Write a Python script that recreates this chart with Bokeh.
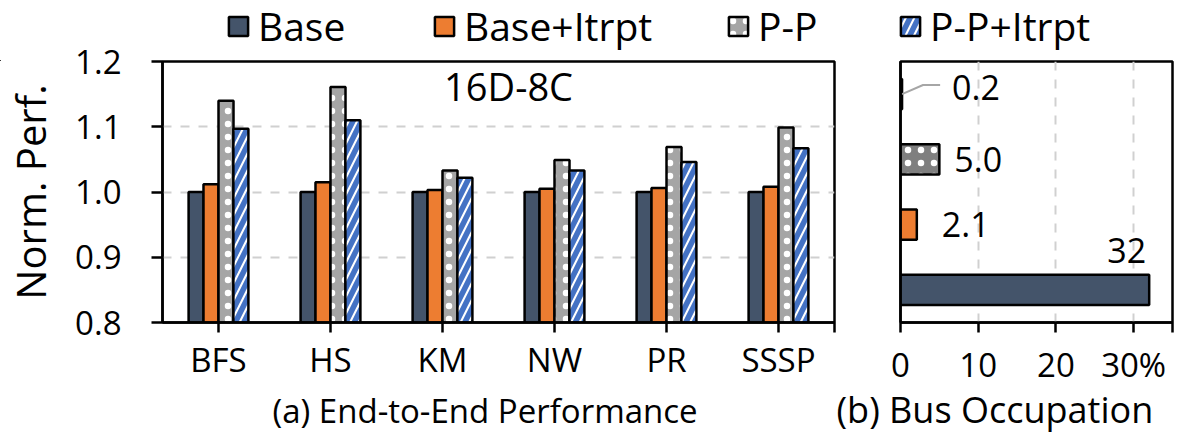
from bokeh.plotting import figure
from bokeh.layouts import row, column
from bokeh.models import (FixedTicker, Label, Legend, LegendItem, Title,
                          NumeralTickFormatter, Range1d)
from bokeh.embed import file_html
from bokeh.resources import INLINE
import numpy as np

# ---------------- data ----------------
workloads = ["BFS", "HS", "KM", "NW", "PR", "SSSP"]
series = ["Base", "Base+Itrpt", "P-P", "P-P+Itrpt"]
base = [1.000, 1.000, 1.000, 1.000, 1.000, 1.000]
base_itrpt = [1.012, 1.015, 1.003, 1.005, 1.006, 1.008]
pp = [1.140, 1.161, 1.033, 1.049, 1.069, 1.099]
pp_itrpt = [1.097, 1.110, 1.022, 1.033, 1.046, 1.067]
y_ticks = [0.8, 0.9, 1.0, 1.1, 1.2]
panel_tag = "16D-8C"

bus_series = ["Base", "Base+Itrpt", "P-P", "P-P+Itrpt"]
bus_occupation = [32, 2.1, 5.0, 0.2]
bus_labels = ["32", "2.1", "5.0", "0.2"]
bus_ticks = [0, 10, 20, 30]

# ---------------- style ----------------
FONT = "Open Sans"
TXT = "black"
styles = [
    dict(fill_color="#44546A"),
    dict(fill_color="#ED7D31"),
    dict(fill_color="#A5A5A5", hatch_pattern="dot", hatch_color="white",
         hatch_scale=13, hatch_weight=1),
    dict(fill_color="white", hatch_pattern="/", hatch_color="#4472C4",
         hatch_scale=17, hatch_weight=5.5),
]
styles_b = [
    dict(fill_color="#44546A"),
    dict(fill_color="#ED7D31"),
    dict(fill_color="#7F7F7F", hatch_pattern="dot", hatch_color="white",
         hatch_scale=13, hatch_weight=1),
    dict(fill_color="white", hatch_pattern="/", hatch_color="#4472C4",
         hatch_scale=17, hatch_weight=5.5),
]
EDGE = dict(line_color="black", line_width=2.5)
GRID = dict(grid_line_color="#D0D0D0", grid_line_width=2, grid_line_dash="9 9")
LEG = dict(orientation="horizontal", glyph_width=24, glyph_height=24,
           label_text_font=FONT, label_text_font_size="39px", label_text_color=TXT,
           label_standoff=8, padding=0, margin=0, border_line_color=None,
           background_fill_alpha=0)


def style_axis(ax, size="33px"):
    ax.axis_line_width = 2.5
    ax.axis_line_color = "black"
    ax.major_tick_line_width = 2.5
    ax.major_tick_line_color = "black"
    ax.major_tick_in = 0
    ax.major_tick_out = 10
    ax.minor_tick_line_color = None
    ax.major_label_text_font = FONT
    ax.major_label_text_font_size = size
    ax.major_label_text_color = TXT


# ---------------- legend strip (drawn underneath the panels) ----------------
lg = figure(width=1182, height=61, x_range=Range1d(0, 1), y_range=Range1d(0, 1),
            toolbar_location=None, output_backend="svg", min_border=0,
            x_axis_location=None, y_axis_location=None, outline_line_color=None)
lg.grid.visible = False
legend_x = [226, 432, 726, 898]
for name, st, lx in zip(series, styles, legend_x):
    r = lg.vbar(x=[-5], top=[-5], bottom=-6, width=1, **st, **EDGE)
    lg.add_layout(Legend(items=[LegendItem(label=name, renderers=[r])],
                         location=(lx, 9), **LEG))

# ---------------- (a) end-to-end performance ----------------
p1 = figure(frame_width=672, frame_height=261, x_range=Range1d(0, 6),
            y_range=Range1d(0.8, 1.2), toolbar_location=None, output_backend="svg",
            min_border_left=158, min_border_right=2, min_border_top=61,
            min_border_bottom=117, border_fill_alpha=0)
xs = np.arange(len(workloads)) + 0.5
offsets = [-0.2, -0.067, 0.067, 0.2]
for vals, off, st in zip([base, base_itrpt, pp, pp_itrpt], offsets, styles):
    p1.vbar(x=xs + off, top=vals, bottom=0.8, width=0.134, **st, **EDGE)

p1.outline_line_color = "black"
p1.outline_line_width = 2.5
p1.outline_line_alpha = 1
p1.xgrid.visible = False
p1.ygrid.ticker = FixedTicker(ticks=[0.9, 1.0, 1.1])
for k, v in GRID.items():
    setattr(p1.ygrid, k, v)

style_axis(p1.xaxis[0])
p1.xaxis.ticker = FixedTicker(ticks=list(xs) + [6.0])
ov = {float(x): w for x, w in zip(xs, workloads)}
ov[6.0] = ""
p1.xaxis.major_label_overrides = ov
p1.xaxis.major_label_standoff = 4

style_axis(p1.yaxis[0])
p1.yaxis.ticker = FixedTicker(ticks=y_ticks)
p1.yaxis.formatter = NumeralTickFormatter(format="0.0")
p1.yaxis.major_tick_out = 11
p1.yaxis.major_label_standoff = 30
p1.yaxis.axis_label = "Norm. Perf."
p1.yaxis.axis_label_text_font = FONT
p1.yaxis.axis_label_text_font_size = "40px"
p1.yaxis.axis_label_text_font_style = "normal"
p1.yaxis.axis_label_text_color = TXT
p1.yaxis.axis_label_standoff = 14

p1.add_layout(Label(x=3.09, y=1.163, text=panel_tag, text_align="center",
                    text_baseline="middle", text_font=FONT, text_font_size="38px",
                    text_color=TXT))
p1.add_layout(Title(text="(a) End-to-End Performance", align="left", offset=110,
                    text_font=FONT, text_font_size="33px", text_font_style="normal",
                    text_color=TXT, standoff=2), "below")

# ---------------- (b) bus occupation ----------------
p2 = figure(frame_width=272, frame_height=261, x_range=Range1d(0, 35),
            y_range=Range1d(-0.5, 3.5), toolbar_location=None, output_backend="svg",
            min_border_left=64, min_border_right=14, min_border_top=61,
            min_border_bottom=117, border_fill_alpha=0)
ys = np.arange(len(bus_series))
for i, st in enumerate(styles_b):
    p2.hbar(y=[ys[i]], left=0, right=[bus_occupation[i]], height=0.46, **st, **EDGE)

p2.outline_line_color = "black"
p2.outline_line_width = 2.5
p2.outline_line_alpha = 1
p2.ygrid.visible = False
p2.xgrid.ticker = FixedTicker(ticks=[10, 20, 30])
for k, v in GRID.items():
    setattr(p2.xgrid, k, v)

style_axis(p2.xaxis[0])
p2.xaxis.ticker = FixedTicker(ticks=bus_ticks + [35])
p2.xaxis.major_label_overrides = {35: "", bus_ticks[-1]: f"{bus_ticks[-1]}%"}
p2.xaxis.major_label_standoff = 9
style_axis(p2.yaxis[0])
p2.yaxis.ticker = FixedTicker(ticks=[])
p2.yaxis.major_label_text_font_size = "0px"

# value labels
lab_dx = [-3, 25, 15, 50]
lab_dy = [-39, 0, 0, -7]
lab_align = ["right", "left", "left", "left"]
p2.text(x=bus_occupation, y=list(ys), text=bus_labels, x_offset=lab_dx, y_offset=lab_dy,
        text_align=lab_align, text_baseline="middle", text_font={"value": FONT},
        text_font_size="34px", text_color=TXT)
v = bus_occupation[3]
p2.line(x=[v, v + 2.7, v + 4.9], y=[ys[3], ys[3] + 0.14, ys[3] + 0.14],
        line_color="#A6A6A6", line_width=2)
p2.add_layout(Title(text="(b) Bus Occupation", align="left", offset=-64,
                    text_font=FONT, text_font_size="36px", text_font_style="normal",
                    text_color=TXT, standoff=-14), "below")

panels = row(p1, p2, spacing=0, margin=(-61, 0, 0, 0))
layout = column(lg, panels, spacing=0)
open("out.html", "w").write(file_html(layout, INLINE))
